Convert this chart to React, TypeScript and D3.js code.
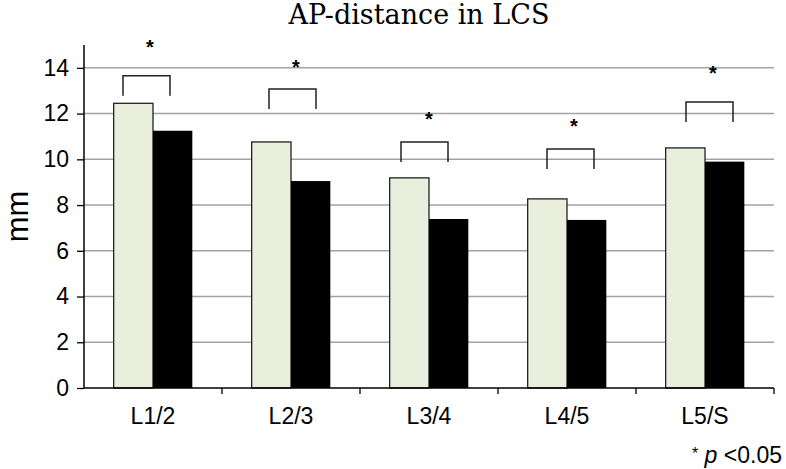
import { useEffect, useRef } from "react";
import * as d3 from "d3";

// data
const levels = ["L1/2", "L2/3", "L3/4", "L4/5", "L5/S"];
const seriesA = [12.45, 10.76, 9.19, 8.27, 10.5]; // light bars
const seriesB = [11.25, 9.05, 7.39, 7.35, 9.9]; // black bars
const bracketTop = [13.65, 13.08, 10.76, 10.45, 12.51];
const starLevel = [15.09, 14.22, 11.94, 11.64, 13.95];
const yTicks = [0, 2, 4, 6, 8, 10, 12, 14];

// annotation nudges (px), as drawn in the original
const bracketShift = [-6, 2, -4, 4, 5];
const starShift = [-3, 5, 0, 7, 8];

const W = 786;
const H = 469;
const margin = { top: 45, right: 12, bottom: 81, left: 84 };
const sans = "Arial, 'Liberation Sans', Helvetica, sans-serif";

const App = () => {
  const ref = useRef<SVGSVGElement>(null);

  useEffect(() => {
    const svg = d3.select(ref.current);
    svg.selectAll("*").remove();

    const x = d3
      .scaleBand()
      .domain(levels)
      .range([margin.left, W - margin.right])
      .padding(0);
    const y = d3
      .scaleLinear()
      .domain([0, 15])
      .range([H - margin.bottom, margin.top]);

    const barW = x.bandwidth() * 0.285;
    const mid = (l: string) => (x(l) as number) + x.bandwidth() / 2;

    // grid lines
    svg
      .append("g")
      .selectAll("line")
      .data(yTicks.filter((t) => t > 0))
      .enter()
      .append("line")
      .attr("x1", margin.left)
      .attr("x2", W - margin.right)
      .attr("y1", (d) => y(d))
      .attr("y2", (d) => y(d))
      .attr("stroke", "#a3a3a3")
      .attr("stroke-width", 1.5);

    // bars
    const g = svg
      .append("g")
      .selectAll("g")
      .data(levels)
      .enter()
      .append("g");

    g.append("rect")
      .attr("x", (d) => mid(d) - barW)
      .attr("y", (d, i) => y(seriesA[i]))
      .attr("width", barW)
      .attr("height", (d, i) => y(0) - y(seriesA[i]))
      .attr("fill", "#e9efdc")
      .attr("stroke", "#222")
      .attr("stroke-width", 1.3);

    g.append("rect")
      .attr("x", (d) => mid(d))
      .attr("y", (d, i) => y(seriesB[i]))
      .attr("width", barW)
      .attr("height", (d, i) => y(0) - y(seriesB[i]))
      .attr("fill", "#000");

    // significance brackets
    g.append("path")
      .attr("d", (d, i) => {
        const c = mid(d) + bracketShift[i];
        const t = y(bracketTop[i]);
        return `M${c - 24},${t + 20}V${t}H${c + 23}V${t + 20}`;
      })
      .attr("fill", "none")
      .attr("stroke", "#222")
      .attr("stroke-width", 1.5);

    g.append("text")
      .attr("x", (d, i) => mid(d) + starShift[i])
      .attr("y", (d, i) => y(starLevel[i]) + 11)
      .attr("text-anchor", "middle")
      .attr("font-family", sans)
      .attr("font-weight", "bold")
      .attr("font-size", 20)
      .text("*");

    // y axis
    const yAxis = svg
      .append("g")
      .attr("transform", `translate(${margin.left},0)`)
      .call(
        d3
          .axisLeft(y)
          .tickValues(yTicks)
          .tickSize(7)
          .tickPadding(8)
          .tickFormat(d3.format("d"))
      );
    yAxis.select(".domain").attr("d", `M0,${y(15)}V${y(0)}`).attr("stroke", "#000").attr("stroke-width", 1.5);
    yAxis.selectAll(".tick line").attr("stroke", "#000").attr("stroke-width", 1.3);
    yAxis
      .selectAll(".tick text")
      .attr("font-family", sans)
      .attr("font-size", 23)
      .attr("fill", "#000");

    // x axis
    const bottom = svg.append("g");
    bottom
      .append("line")
      .attr("x1", margin.left)
      .attr("x2", W - margin.right)
      .attr("y1", y(0))
      .attr("y2", y(0))
      .attr("stroke", "#000")
      .attr("stroke-width", 1.5);
    bottom
      .selectAll(".xt")
      .data(levels)
      .enter()
      .append("line")
      .attr("x1", (d) => (x(d) as number) + x.bandwidth())
      .attr("x2", (d) => (x(d) as number) + x.bandwidth())
      .attr("y1", y(0))
      .attr("y2", y(0) + 6)
      .attr("stroke", "#000")
      .attr("stroke-width", 1.3);
    bottom
      .selectAll("text")
      .data(levels)
      .enter()
      .append("text")
      .attr("x", (d) => mid(d))
      .attr("y", y(0) + 36)
      .attr("text-anchor", "middle")
      .attr("font-family", sans)
      .attr("font-size", 23)
      .text((d) => d);

    // y label
    svg
      .append("text")
      .attr("transform", `translate(28,${(y(0) + y(15)) / 2}) rotate(-90)`)
      .attr("text-anchor", "middle")
      .attr("font-family", sans)
      .attr("font-size", 31)
      .text("mm");

    // title
    svg
      .append("text")
      .attr("x", 419)
      .attr("y", 24)
      .attr("text-anchor", "middle")
      .attr("font-family", "'DejaVu Serif', serif")
      .attr("font-size", 27)
      .text("AP-distance in LCS");

    // footnote
    const note = svg
      .append("text")
      .attr("x", 782)
      .attr("y", 463)
      .attr("text-anchor", "end")
      .attr("font-family", sans)
      .attr("font-size", 23);
    note.append("tspan").attr("font-size", 16).attr("dy", -4).text("*");
    note.append("tspan").attr("dy", 4).text(" ");
    note.append("tspan").attr("font-style", "italic").text("p");
    note.append("tspan").text(" <0.05");
  }, []);

  return (
    <svg
      ref={ref}
      width={W}
      height={H}
      style={{ position: "absolute", left: 0, top: 0, background: "#fff" }}
    />
  );
};

export default App;
